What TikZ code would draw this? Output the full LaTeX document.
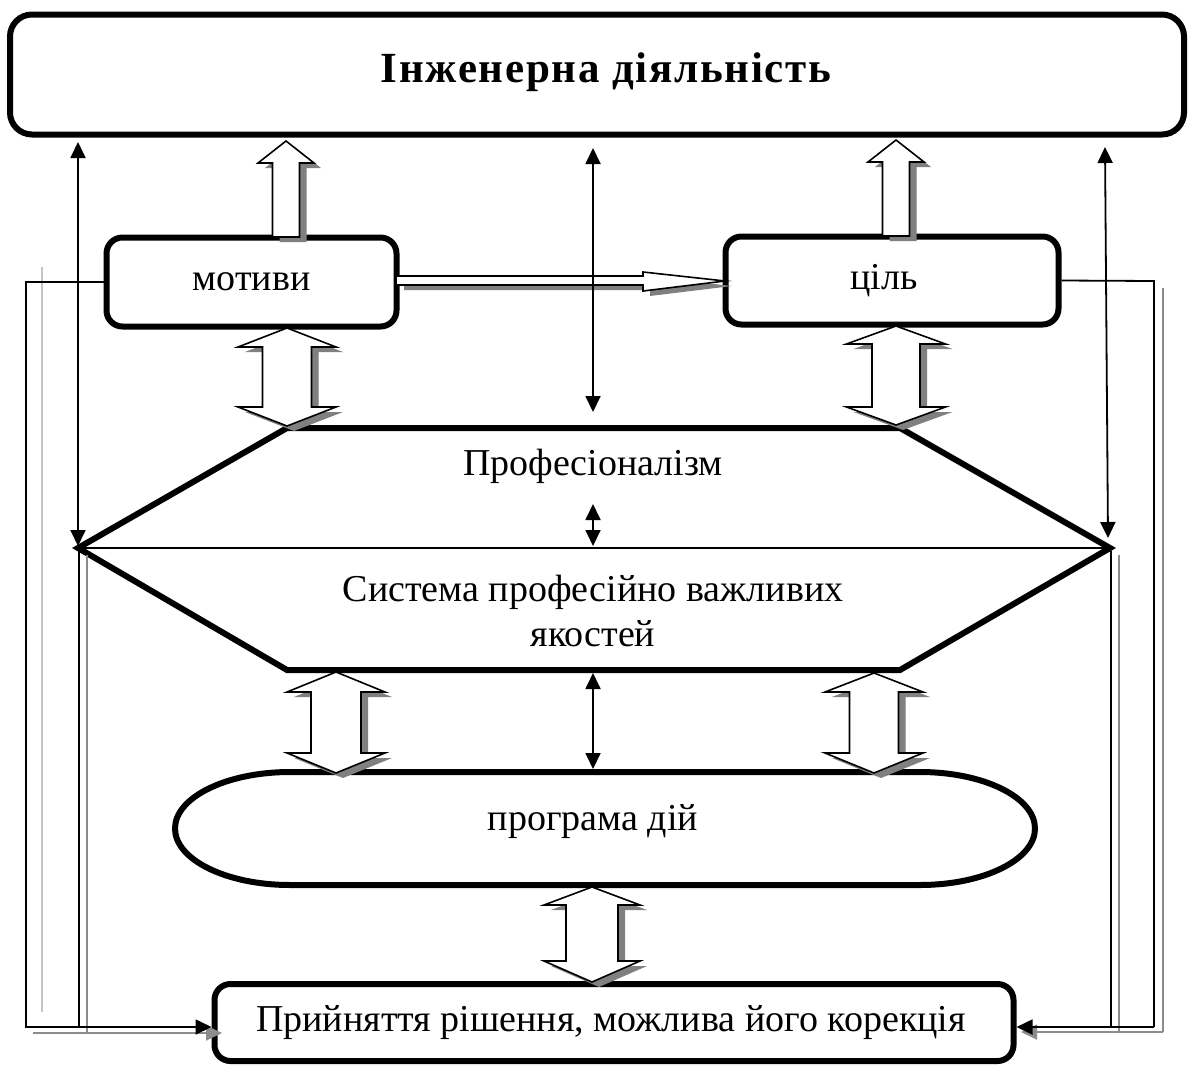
\documentclass[tikz,border=0pt]{standalone}
\usepackage{fontspec}
\setmainfont{Liberation Serif}
\usetikzlibrary{arrows.meta}
\definecolor{shd}{HTML}{808080}
\definecolor{lgray}{HTML}{C4C4C4}
\definecolor{mgray}{HTML}{8C8C8C}
\newcommand\blkdbl[7]{%
  \fill[shd, shift={(7,5)}] (#1,#2) -- ({#1+#5},#3) -- ({#1+#4},#3) -- ({#1+#4},#6) -- ({#1+#5},#6) -- (#1,#7) -- ({#1-#5},#6) -- ({#1-#4},#6) -- ({#1-#4},#3) -- ({#1-#5},#3) -- cycle;
  \draw[blkarrow] (#1,#2) -- ({#1+#5},#3) -- ({#1+#4},#3) -- ({#1+#4},#6) -- ({#1+#5},#6) -- (#1,#7) -- ({#1-#5},#6) -- ({#1-#4},#6) -- ({#1-#4},#3) -- ({#1-#5},#3) -- cycle;}
\newcommand\blkup[6]{%
  \fill[shd, shift={(7,5)}] (#1,#2) -- ({#1+#5},#3) -- ({#1+#4},#3) -- ({#1+#4},#6) -- ({#1-#4},#6) -- ({#1-#4},#3) -- ({#1-#5},#3) -- cycle;
  \draw[blkarrow] (#1,#2) -- ({#1+#5},#3) -- ({#1+#4},#3) -- ({#1+#4},#6) -- ({#1-#4},#6) -- ({#1-#4},#3) -- ({#1-#5},#3) -- cycle;}
\begin{document}
\begin{tikzpicture}[x=1pt,y=-1pt,
  lbl/.style={font=\fontsize{38}{45}\selectfont, inner sep=0pt, align=center},
  box/.style={draw, line width=6pt, rounded corners=16pt, inner sep=0pt},
  blkarrow/.style={draw=black, fill=white, line width=1.6pt, line join=miter},
  thin/.style={line width=1.8pt},
  tipboth/.style={line width=1.8pt, {Triangle[length=16pt,width=15pt]}-{Triangle[length=16pt,width=15pt]}},
  tipend/.style={line width=1.8pt, -{Triangle[length=16pt,width=15pt]}},
  gtipend/.style={line width=1.8pt, draw=mgray, -{Triangle[length=16pt,width=15pt]}},
]
\useasboundingbox (0,0) rectangle (1193,1068);
\fill[white] (0,0) rectangle (1193,1068);

% boxes
\node[box, minimum width=1174pt, minimum height=120pt, rounded corners=22pt] (top) at (597,74.5) {};
\node[lbl, font=\fontsize{43}{48}\selectfont\bfseries\addfontfeature{LetterSpace=4}] (title) at (606,72) {Інженерна діяльність};
\node[box, minimum width=290pt, minimum height=89pt] (mot) at (251.5,282) {};
\node[lbl] (motT) at (251.5,282) {мотиви};
\node[box, minimum width=333pt, minimum height=88pt] (cil) at (892,280.5) {};
\node[lbl] (cilT) at (884,280.5) {ціль};
\node[box, minimum width=799pt, minimum height=77pt] (dec) at (614,1022.5) {};
\node[lbl] (decT) at (611,1022.5) {Прийняття рішення, можлива його корекція};

% hexagon
\coordinate (hL) at (78,548);
\coordinate (hR) at (1110,548);
\coordinate (hTL) at (287,428);
\coordinate (hTR) at (900,428);
\coordinate (hBL) at (287,670);
\coordinate (hBR) at (900,670);
\draw[line width=6pt] (hTL) -- (hTR) -- (hR) -- (hBR) -- (hBL) -- (hL) -- cycle;
\draw[line width=2pt] (hL) -- (hR);
\node[lbl] (prof) at (593,466) {Професіоналізм};
\node[lbl] (sys) at (593,611) {Система професійно важливих\\якостей};

% stadium
\draw[line width=6pt] (290,772) -- (920,772)
  .. controls (983.5,772) and (1035,797.3) .. (1035,828.5)
  .. controls (1035,859.7) and (983.5,885) .. (920,885)
  -- (290,885)
  .. controls (226.5,885) and (175,859.7) .. (175,828.5)
  .. controls (175,797.3) and (226.5,772) .. (290,772) -- cycle;
\node[lbl] (prog) at (593,822) {програма дій};

% block arrows
\blkup{286}{141}{163}{13.5}{28}{237}
\blkup{896}{140}{162}{13.5}{28}{236}
\blkdbl{287}{328}{347}{24.5}{49}{407}{426}
\blkdbl{896}{326}{344}{24}{49.5}{407}{425}
\blkdbl{336}{672}{692}{25}{49}{753}{773}
\blkdbl{874}{673}{692}{24.5}{49}{753}{773}
\blkdbl{592}{887}{905}{26}{48}{961}{982}

% horizontal block arrow motives -> goal
\fill[shd, shift={(7,5)}] (397,276) -- (643,276) -- (643,272) -- (725,281) -- (643,291) -- (643,285) -- (397,285) -- cycle;
\draw[blkarrow] (397,276) -- (643,276) -- (643,272) -- (725,281) -- (643,291) -- (643,285) -- (397,285);

% thin double arrows
\coordinate (c1a) at (593,148); \coordinate (c1b) at (593,412);
\draw[tipboth] (c1a) -- (c1b);
\coordinate (c2a) at (593,504); \coordinate (c2b) at (593,546);
\draw[tipboth] (c2a) -- (c2b);
\coordinate (c3a) at (593,673); \coordinate (c3b) at (593,769);
\draw[tipboth] (c3a) -- (c3b);
\coordinate (lA) at (78,142); \coordinate (lB) at (78,546);
\draw[tipboth] (lA) -- (lB);
\coordinate (rA) at (1105,147); \coordinate (rB) at (1108,538);
\draw[tipboth] (rA) -- (rB);

% feedback lines, left
\draw[lgray, line width=1.8pt] (42,267) -- (42,1012);
\draw[mgray, line width=1.8pt] (87,555) -- (87,1033);
\draw[gtipend] (33,1033) -- (222,1033);
\draw[thin] (mot.west) -- (26,282) -- (26,1027) -- (79,1027);
\draw[thin] (79,551) -- (79,1027);
\draw[tipend] (26,1027) -- (dec.west |- 0,1027);
% feedback lines, right
\draw[mgray, line width=1.8pt] (1163,288) -- (1163,1032);
\draw[mgray, line width=1.8pt] (1119,555) -- (1119,1032);
\draw[gtipend] (1163,1032) -- (1021,1032);
\draw[thin] (cil.east) -- (1154,281) -- (1154,1027);
\draw[thin] (1111,551) -- (1111,1027);
\draw[tipend] (1154,1027) -- (dec.east |- 0,1027);
\end{tikzpicture}
\end{document}
